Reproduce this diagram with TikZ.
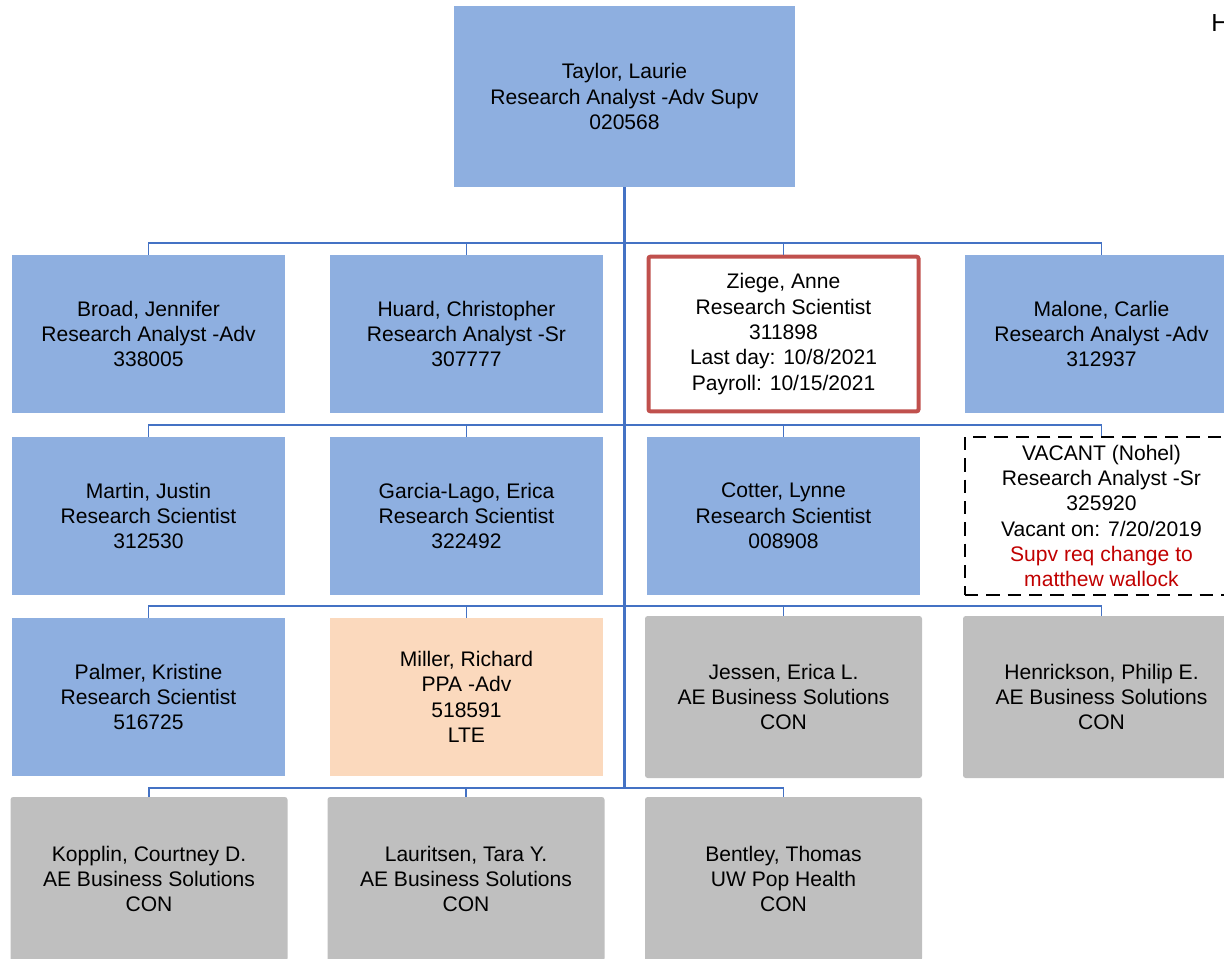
\documentclass[tikz,border=0pt]{standalone}
\usepackage{fontspec}
\setmainfont{Liberation Sans}
\definecolor{boxblue}{RGB}{142,175,224}
\definecolor{boxpeach}{RGB}{251,217,189}
\definecolor{boxgray}{RGB}{191,191,191}
\definecolor{connblue}{RGB}{68,114,196}
\definecolor{borderred}{RGB}{192,80,77}
\definecolor{notered}{RGB}{192,0,0}
\tikzset{
  card/.style={inner sep=0pt, align=center, font=\fontsize{15.8}{19}\selectfont,
    minimum width=204.75pt, minimum height=118.5pt},
  bluebox/.style={card, fill=boxblue},
  peachbox/.style={card, fill=boxpeach},
  graybox/.style={card, fill=boxgray, rounded corners=2pt, minimum width=207.75pt, minimum height=121.5pt},
  redbox/.style={card, fill=white, draw=borderred, line width=3pt, rounded corners=1.5pt,
    minimum width=202.5pt, minimum height=116pt},
  vacantbox/.style={card, draw=black, line width=1.5pt, dash pattern=on 10pt off 6pt,
    minimum width=204.75pt, minimum height=118.5pt},
  conn/.style={draw=connblue, line width=1.4pt},
  trunk/.style={draw=connblue, line width=1.9pt},
}
\begin{document}
\begin{tikzpicture}[x=0.75pt, y=-0.75pt]
\useasboundingbox (0,0) rectangle (1224,958);
\clip (0,0) rectangle (1224,958);
% top
\node[bluebox, minimum width=255.75pt, minimum height=135.75pt] (taylor) at (624.5,96.5)
  {Taylor, Laurie\\Research Analyst -Adv Supv\\020568};
% row 1
\node[bluebox] (broad) at (148.5,334) {Broad, Jennifer\\Research Analyst -Adv\\338005};
\node[bluebox] (huard) at (466.5,334) {Huard, Christopher\\Research Analyst -Sr\\307777};
\node[redbox] (ziege) at (783.5,334) {Ziege, Anne\\Research Scientist\\311898\\Last day: 10/8/2021\\Payroll: 10/15/2021};
\node[bluebox] (malone) at (1101.5,334) {Malone, Carlie\\Research Analyst -Adv\\312937};
% row 2
\node[bluebox] (martin) at (148.5,516) {Martin, Justin\\Research Scientist\\312530};
\node[bluebox] (garcia) at (466.5,516) {Garcia-Lago, Erica\\Research Scientist\\322492};
\node[bluebox] (cotter) at (783.5,516) {Cotter, Lynne\\Research Scientist\\008908};
\node[vacantbox] (vacant) at (1101.5,516) {VACANT (Nohel)\\Research Analyst -Sr\\325920\\Vacant on: 7/20/2019\\\textcolor{notered}{Supv req change to}\\\textcolor{notered}{matthew wallock}};
% row 3
\node[bluebox] (palmer) at (148.5,697) {Palmer, Kristine\\Research Scientist\\516725};
\node[peachbox] (miller) at (466.5,697) {Miller, Richard\\PPA -Adv\\518591\\LTE};
\node[graybox] (jessen) at (783.5,697) {Jessen, Erica L.\\AE Business Solutions\\CON};
\node[graybox] (henrick) at (1101.5,697) {Henrickson, Philip E.\\AE Business Solutions\\CON};
% row 4
\node[graybox, minimum height=123pt] (kopplin) at (149,879) {Kopplin, Courtney D.\\AE Business Solutions\\CON};
\node[graybox, minimum height=123pt] (lauritsen) at (466,879) {Lauritsen, Tara Y.\\AE Business Solutions\\CON};
\node[graybox, minimum height=123pt] (bentley) at (783.5,879) {Bentley, Thomas\\UW Pop Health\\CON};
% stray label at top right
\node[anchor=base west, inner sep=0pt, font=\fontsize{18.5}{22}\selectfont] (hlabel) at (1211,31) {H};
% connectors
\coordinate (j1) at (624.5,243);
\coordinate (j2) at (624.5,425);
\coordinate (j3) at (624.5,606);
\coordinate (j4) at (624.5,788);
\draw[trunk] (taylor.south) -- (j4);
\foreach \n in {broad,huard,ziege,malone} { \draw[conn] (\n.north) |- (j1); }
\foreach \n in {martin,garcia,cotter,vacant} { \draw[conn] (\n.north) |- (j2); }
\foreach \n in {palmer,miller,jessen,henrick} { \draw[conn] (\n.north) |- (j3); }
\foreach \n in {kopplin,lauritsen,bentley} { \draw[conn] (\n.north) |- (j4); }
\end{tikzpicture}
\end{document}
